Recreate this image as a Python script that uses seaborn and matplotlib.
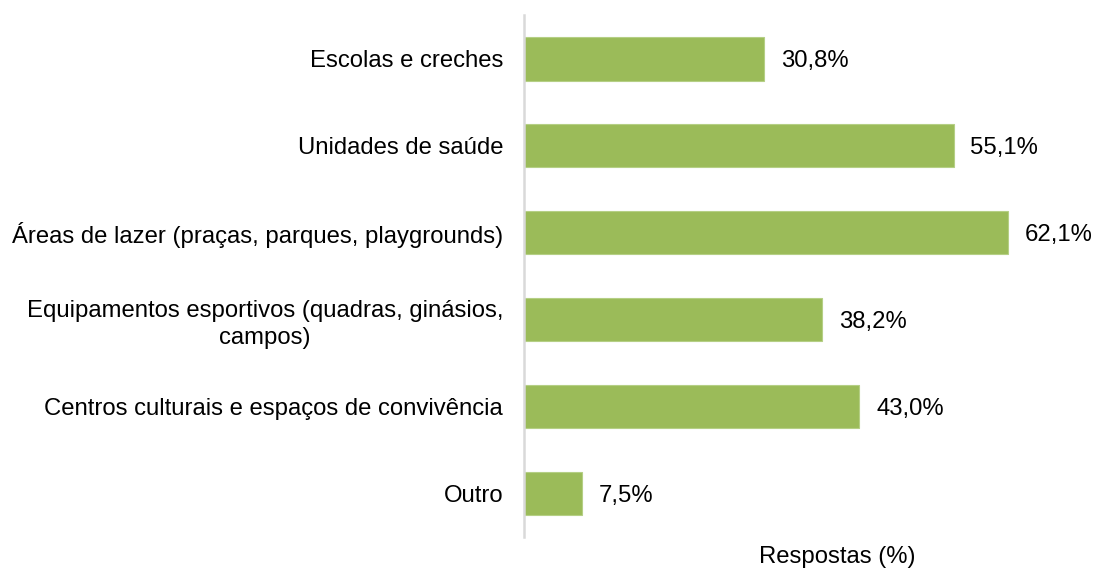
import matplotlib
matplotlib.use("Agg")
import matplotlib.pyplot as plt
import seaborn as sns
import pandas as pd

categories = [
    "Escolas e creches",
    "Unidades de saúde",
    "Áreas de lazer (praças, parques, playgrounds)",
    "Equipamentos esportivos (quadras, ginásios,\ncampos)",
    "Centros culturais e espaços de convivência",
    "Outro",
]
values = [30.8, 55.1, 62.1, 38.2, 43.0, 7.5]
value_labels = ["30,8%", "55,1%", "62,1%", "38,2%", "43,0%", "7,5%"]

sns.set_theme(style="white")
plt.rcParams["font.family"] = ["Liberation Sans", "DejaVu Sans"]

FS = 17.2
df = pd.DataFrame({"cat": categories, "val": values})

fig = plt.figure(figsize=(10.95, 5.68), dpi=100)
ax = fig.add_axes([0.4785, 0.055, 0.52, 0.918])

sns.barplot(data=df, y="cat", x="val", orient="h", color="#9BBB59",
            saturation=1, width=0.5, edgecolor="#B5CF85", linewidth=0.8, ax=ax)

ax.set_xlim(0, 73.0)
for s in ["top", "right", "bottom"]:
    ax.spines[s].set_visible(False)
ax.spines["left"].set_color("#D9D9D9")
ax.spines["left"].set_linewidth(1.8)
ax.set_xticks([])
ax.set_ylabel("")
ax.tick_params(axis="y", length=0, pad=15, labelsize=FS, labelcolor="#000000")
for t in ax.get_yticklabels():
    t.set_multialignment("center")
    t.set_linespacing(1.3)

for i, (v, lab) in enumerate(zip(values, value_labels)):
    ax.annotate(lab, xy=(v, i), xytext=(12, 0), textcoords="offset points",
                ha="left", va="center_baseline", fontsize=FS, color="#000000")

ax.set_xlabel("Respostas (%)", fontsize=FS, color="#000000")
ax.xaxis.set_label_coords(0.55, -0.018)
ax.xaxis.label.set_va("top")

fig.savefig("out.png", dpi=100)
